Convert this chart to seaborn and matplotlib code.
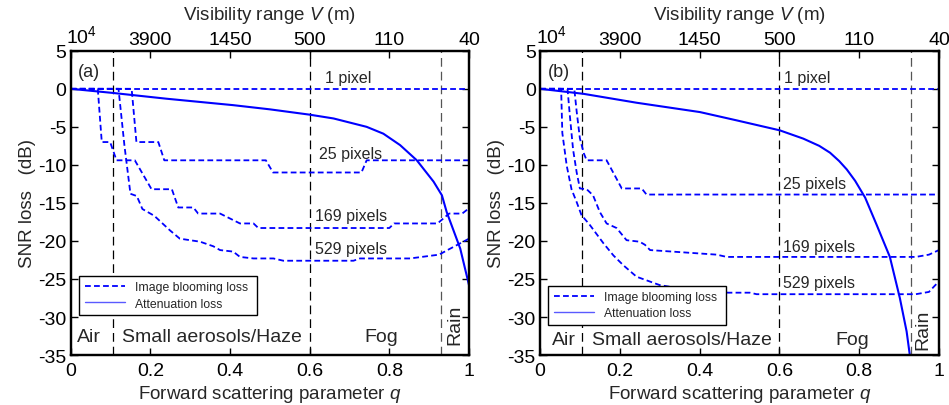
import matplotlib
matplotlib.use('Agg')
import matplotlib.pyplot as plt
import matplotlib.transforms as mtransforms
import seaborn as sns
from matplotlib.lines import Line2D

# ---------------- data ----------------
x_ticks = [0, 0.2, 0.4, 0.6, 0.8, 1.0]
x_ticklabels = ['0', '0.2', '0.4', '0.6', '0.8', '1']
top_ticklabels = ['$10^4$', '3900', '1450', '500', '110', '40']
y_ticks = [-35, -30, -25, -20, -15, -10, -5, 0, 5]
region_bounds = [0.105, 0.6, 0.93]

q_1px = [0.0, 1.0]
y_1px = [0.0, 0.0]

# Panel (a)
qa_25 = [0, 0.153, 0.165, 0.220, 0.235, 0.490, 0.508, 0.730, 0.743, 1.0]
ya_25 = [0, 0, -7.0, -7.0, -9.4, -9.4, -11.0, -11.0, -9.4, -9.4]
qa_169 = [0, 0.068, 0.078, 0.099, 0.115, 0.161, 0.203, 0.254, 0.270, 0.308, 0.320,
          0.375, 0.425, 0.459, 0.471, 0.800, 0.812, 0.921, 0.950, 0.983, 1.0]
ya_169 = [0, 0, -7.0, -7.0, -9.4, -9.4, -13.2, -13.2, -15.6, -15.6, -16.4,
          -16.4, -17.7, -17.7, -18.3, -18.3, -17.7, -17.7, -16.4, -16.4, -15.7]
qa_529 = [0, 0.120, 0.135, 0.150, 0.166, 0.180, 0.210, 0.249, 0.274, 0.325, 0.358,
          0.375, 0.408, 0.425, 0.459, 0.509, 0.534, 0.710, 0.726, 0.852, 0.925, 0.946, 1.0]
ya_529 = [0, 0, -7.5, -13.8, -14.1, -15.8, -16.7, -18.6, -19.7, -20.1, -20.7,
          -21.2, -21.4, -22.1, -22.3, -22.3, -22.6, -22.6, -22.3, -22.3, -21.8, -21.2, -19.7]
qa_att = [0, 0.107, 0.240, 0.408, 0.500, 0.600, 0.660, 0.743, 0.785, 0.827, 0.869,
          0.911, 0.932, 0.944, 0.978, 1.0]
ya_att = [0, -0.55, -1.3, -2.15, -2.7, -3.4, -3.9, -5.0, -5.9, -7.4, -9.4,
          -12.2, -14.0, -16.2, -21.0, -25.8]

# Panel (b)
qb_25 = [0, 0.086, 0.092, 0.100, 0.110, 0.117, 0.167, 0.205, 0.255, 0.267, 1.0]
yb_25 = [0, 0, -3.0, -6.5, -8.5, -9.4, -9.4, -13.1, -13.1, -13.9, -13.9]
qb_169 = [0, 0.069, 0.075, 0.083, 0.092, 0.100, 0.117, 0.125, 0.133, 0.150, 0.167,
          0.192, 0.217, 0.250, 0.263, 0.276, 0.443, 0.468, 0.942, 0.975, 1.0]
yb_169 = [0, 0, -3.6, -8.0, -11.0, -13.1, -13.2, -13.6, -14.0, -16.2, -17.7,
          -18.3, -19.9, -20.1, -20.5, -21.2, -21.8, -22.1, -22.1, -21.8, -21.2]
qb_529 = [0, 0.053, 0.056, 0.067, 0.079, 0.092, 0.104, 0.125, 0.159, 0.184, 0.209,
          0.242, 0.300, 0.380, 0.472, 0.526, 0.543, 0.942, 0.975, 1.0]
yb_529 = [0, 0, -5.8, -10.1, -13.2, -14.9, -16.6, -17.9, -20.3, -21.9, -23.2,
          -24.7, -25.8, -26.5, -26.8, -26.8, -27.0, -27.0, -26.7, -25.3]
qb_att = [0, 0.109, 0.242, 0.401, 0.493, 0.601, 0.660, 0.700, 0.727, 0.750, 0.769,
          0.790, 0.815, 0.844, 0.877, 0.902, 0.919, 0.927, 0.935]
yb_att = [0, -0.66, -1.83, -3.06, -4.15, -5.46, -6.55, -7.5, -8.4, -9.5, -10.6,
          -12.1, -14.3, -17.9, -22.1, -27.5, -31.9, -35.0, -37.0]

curve_labels = ['1 pixel', '25 pixels', '169 pixels', '529 pixels']
region_labels = ['Air', 'Small aerosols/Haze', 'Fog', 'Rain']
legend_labels = ['Image blooming loss', 'Attenuation loss']

# ---------------- style ----------------
sns.set_theme(style='ticks')
plt.rcParams['font.family'] = ['Liberation Sans', 'DejaVu Sans']
plt.rcParams['mathtext.fontset'] = 'custom'
plt.rcParams['mathtext.rm'] = 'Liberation Sans'
plt.rcParams['mathtext.it'] = 'Liberation Sans:italic'
plt.rcParams['axes.unicode_minus'] = False

BLUE = '#0000ff'
DASH = (0, (3.2, 1.8))

fig = plt.figure(figsize=(9.49, 4.06), dpi=100)
axA = fig.add_axes([0.0745, 0.123, 0.4197, 0.7495])
axB = fig.add_axes([0.569, 0.123, 0.4204, 0.7495])


def draw_panel(ax, tag, curves, att, txt_pos, reg_pos, leg_y):
    for q, y in curves:
        sns.lineplot(x=q, y=y, ax=ax, color=BLUE, linewidth=1.3, linestyle=DASH,
                     sort=False, estimator=None)
    sns.lineplot(x=att[0], y=att[1], ax=ax, color=BLUE, linewidth=1.5,
                 sort=False, estimator=None)
    for i, b in enumerate(region_bounds):
        ax.axvline(b, color='#000000' if i < 2 else '#555555', lw=0.9,
                   linestyle=(0, (7, 4)), zorder=1)
    ax.set_xlim(0, 1)
    ax.set_ylim(-35, 5)
    ax.set_xticks(x_ticks)
    ax.set_xticklabels(x_ticklabels)
    ax.set_yticks(y_ticks)
    ax.set_yticklabels([str(v) for v in y_ticks])
    ax.tick_params(direction='in', length=5, width=1, labelsize=14, colors='black',
                   top=False, right=True)
    ax.tick_params(axis='x', pad=5)
    ax.tick_params(axis='y', pad=3)
    for s in ax.spines.values():
        s.set_visible(True)
        s.set_linewidth(1.6)
        s.set_color('black')
    ax.set_xlabel('Forward scattering parameter $\\it{q}$', fontsize=13.5, labelpad=3)
    ax.set_ylabel('SNR loss   (dB)', fontsize=13.5, labelpad=2)

    top = ax.twiny()
    top.set_xlim(0, 1)
    top.set_xticks(x_ticks)
    top.set_xticklabels(top_ticklabels)
    top.tick_params(direction='in', length=5, width=1, labelsize=14, pad=2, colors='black')
    top.set_xlabel('Visibility range $\\it{V}$ (m)', fontsize=13.5, labelpad=4)
    for s in top.spines.values():
        s.set_linewidth(1.6)
        s.set_color('black')
    # shift the 10^4 label slightly right, as in the reference
    lbl = top.get_xticklabels()[0]
    lbl.set_transform(lbl.get_transform() +
                      mtransforms.ScaledTranslation(8 / 72, 1 / 72, fig.dpi_scale_trans))

    ax.text(0.019, 2.3, tag, fontsize=13, ha='left', va='center')
    for lab, (x, y) in zip(curve_labels, txt_pos):
        ax.text(x, y, lab, fontsize=11.5, ha='left', va='center')
    for lab, (x, y, rot) in zip(region_labels, reg_pos):
        ax.text(x, y, lab, fontsize=14, ha='center', va='center', rotation=rot)

    handles = [Line2D([], [], color=BLUE, lw=1.3, linestyle=DASH),
               Line2D([], [], color='#5a5aff', lw=1.0)]
    leg = ax.legend(handles, legend_labels, loc='lower left',
                    bbox_to_anchor=(0.021, leg_y, 0.446, 0.14), mode='expand',
                    borderaxespad=0, fontsize=8.8, handlelength=3.3,
                    fancybox=False, framealpha=1, edgecolor='black',
                    labelspacing=0.35, borderpad=0.45, handletextpad=0.8)
    leg.get_frame().set_linewidth(1.0)
    return top


draw_panel(axA, '(a)',
           [(q_1px, y_1px), (qa_25, ya_25), (qa_169, ya_169), (qa_529, ya_529)],
           (qa_att, ya_att),
           [(0.638, 1.45), (0.623, -8.5), (0.613, -16.6), (0.613, -21.0)],
           [(0.045, -32.6, 0), (0.354, -32.6, 0), (0.78, -32.6, 0), (0.965, -30.9, 90)],
           0.131)
draw_panel(axB, '(b)',
           [(q_1px, y_1px), (qb_25, yb_25), (qb_169, yb_169), (qb_529, yb_529)],
           (qb_att, yb_att),
           [(0.612, 1.45), (0.61, -12.4), (0.61, -20.7), (0.61, -25.4)],
           [(0.059, -33.0, 0), (0.355, -33.0, 0), (0.782, -33.0, 0), (0.96, -31.5, 90)],
           0.099)

fig.savefig('out.png', dpi=100)
